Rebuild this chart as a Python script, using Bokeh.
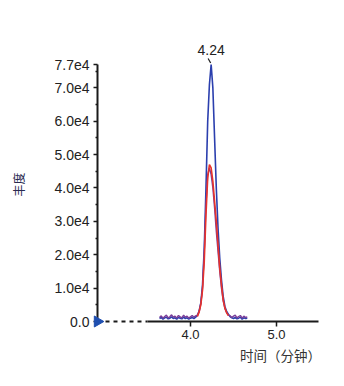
import math
from bokeh.plotting import figure
from bokeh.models import Range1d, FixedTicker, Label
from bokeh.core.properties import value
from bokeh.embed import file_html
from bokeh.resources import INLINE

# ---------------- data ----------------
time_min = [3.64, 3.66, 3.68, 3.70, 3.72, 3.74, 3.76, 3.78, 3.80, 3.82,
            3.84, 3.86, 3.88, 3.90, 3.92, 3.94, 3.96, 3.98, 4.00, 4.02,
            4.04, 4.06, 4.08, 4.10, 4.12, 4.14, 4.16, 4.18, 4.20, 4.22,
            4.24, 4.26, 4.28, 4.30, 4.32, 4.34, 4.36, 4.38, 4.40, 4.42,
            4.44, 4.46, 4.48, 4.50, 4.52, 4.54, 4.56, 4.58, 4.60, 4.62,
            4.64, 4.66]

blue_abund = [900, 1200, 700, 1100, 1300, 800, 1000, 1400, 900, 1100,
              700, 1200, 1000, 800, 1300, 900, 1100, 700, 1000, 1200,
              900, 1300, 1800, 3000, 5500, 11000, 22000, 40000, 60000, 71000,
              77000, 70000, 55000, 40000, 28000, 19000, 12500, 7500, 4500, 3000,
              2200, 1500, 1100, 900, 1200, 800, 1000, 1300, 700, 1100,
              900, 1000]

purple_abund = [1200, 1700, 1000, 1500, 1900, 1100, 1400, 2000, 1300, 1600,
                1000, 1800, 1400, 1100, 1900, 1300, 1600, 1000, 1400, 1800,
                1300, 1700, 1900, 3200, 5600, 10000, 21000, 35000, 44000, 46000,
                44000, 40000, 34000, 27000, 21000, 15000, 10000, 6200, 3900, 2700,
                1900, 1700, 1200, 1600, 1900, 1100, 1500, 1800, 1000, 1600,
                1200, 1400]

red_time = [4.08, 4.10, 4.12, 4.14, 4.16, 4.18, 4.20, 4.22, 4.24, 4.26,
            4.28, 4.30, 4.32, 4.34, 4.36, 4.38, 4.40, 4.42, 4.44]
red_abund = [1500, 2800, 5000, 9500, 18000, 32000, 43000, 47000, 46000, 42000,
             36000, 30000, 23000, 16000, 11000, 6500, 4000, 2600, 1800]

y_tick_values = [0, 10000, 20000, 30000, 40000, 50000, 60000, 70000, 77000]
y_tick_labels = ["0.0", "1.0e4", "2.0e4", "3.0e4", "4.0e4", "5.0e4", "6.0e4", "7.0e4", "7.7e4"]
y_minor_ticks = [5000, 15000, 25000, 35000, 45000, 55000, 65000, 75000]
x_tick_values = [4.0, 5.0]
x_tick_labels = ["4.0", "5.0"]

x_title = "时间（分钟）"
y_title = "丰度"

# ---------------- layout ----------------
X_START, X_END = 2.919, 5.488
X_AXIS_SOLID_START = 3.5
Y_END = 90183
Y_AXIS_TOP = 77000

W, H = 338, 380
p = figure(width=W, height=H, output_backend="svg", toolbar_location=None,
           x_range=Range1d(X_START, X_END), y_range=Range1d(0, Y_END),
           min_border_left=97, min_border_right=20, min_border_top=20, min_border_bottom=59)
p.outline_line_color = None
p.xgrid.visible = False
p.ygrid.visible = False
p.background_fill_color = "white"
p.border_fill_color = "white"

TICK_FONT = "Liberation Sans"
CJK_FONT = "Noto Sans CJK SC"
TEXT_COLOR = "#222222"

# y axis
ya = p.yaxis[0]
ya.ticker = FixedTicker(ticks=y_tick_values, minor_ticks=y_minor_ticks)
ya.major_label_overrides = {v: s for v, s in zip(y_tick_values, y_tick_labels)}
ya.bounds = (0, Y_AXIS_TOP)
ya.axis_line_width = 2
ya.axis_line_color = "#1a1a1a"
ya.major_tick_line_color = "#1a1a1a"
ya.minor_tick_line_color = "#1a1a1a"
ya.major_tick_line_width = 1.5
ya.minor_tick_line_width = 1.5
ya.major_tick_out = 4
ya.major_tick_in = 0
ya.minor_tick_out = 2
ya.minor_tick_in = 0
ya.major_label_standoff = 4
ya.major_label_text_font = TICK_FONT
ya.major_label_text_font_size = "14px"
ya.major_label_text_color = TEXT_COLOR

# x axis
xa = p.xaxis[0]
xa.ticker = FixedTicker(ticks=x_tick_values, minor_ticks=[])
xa.major_label_overrides = {v: s for v, s in zip(x_tick_values, x_tick_labels)}
xa.bounds = (X_AXIS_SOLID_START, X_END)
xa.axis_line_width = 2
xa.axis_line_color = "#1a1a1a"
xa.major_tick_line_color = "#1a1a1a"
xa.major_tick_line_width = 1.5
xa.major_tick_out = 5
xa.major_tick_in = 0
xa.major_label_standoff = 3
xa.major_label_text_font = TICK_FONT
xa.major_label_text_font_size = "13px"
xa.major_label_text_color = TEXT_COLOR

# traces
p.line(time_min, blue_abund, line_color="#2b3fae", line_width=1.6)
p.line(time_min, purple_abund, line_color="#7a3d98", line_width=1.4)
p.line(red_time, red_abund, line_color="#e8322a", line_width=1.6)

# dashed extension of x axis and start marker
dash = p.segment(x0=[X_START], y0=[0], x1=[X_AXIS_SOLID_START], y1=[0],
                 line_color="#1a1a1a", line_width=1.8, line_dash="4 4")
dash.level = "overlay"
tri = p.scatter(x=[X_START], y=[0], marker="triangle", size=11, angle=-math.pi / 2,
                fill_color="#1f4fb0", line_color="#1f4fb0")
tri.level = "overlay"

# peak annotation
i_peak = max(range(len(blue_abund)), key=lambda i: blue_abund[i])
peak_t = time_min[i_peak]
peak_v = blue_abund[i_peak]
dx_px = (X_END - X_START) / 221.0
dy_px = Y_END / 301.0
p.segment(x0=[peak_t - 3 * dx_px], y0=[peak_v + 6 * dy_px],
          x1=[peak_t - 0.5 * dx_px], y1=[peak_v + 1.5 * dy_px],
          line_color="#1a1a1a", line_width=1.2)
p.add_layout(Label(x=peak_t, y=peak_v, y_offset=15, text="%.2f" % peak_t,
                   text_align="center", text_baseline="middle",
                   text_font=TICK_FONT, text_font_size="14px", text_color=TEXT_COLOR))

# axis titles (text glyphs drawn at overlay level so they are not clipped)
xt = p.text(x=[5.0], y=[0], text=[x_title], x_offset=4, y_offset=33,
            text_align="center", text_baseline="middle",
            text_font=value(CJK_FONT), text_font_size="13.5px", text_color="#333333")
xt.level = "overlay"
yt = p.text(x=[X_START], y=[0], text=[y_title], x_offset=-79, y_offset=-137, angle=math.pi / 2,
            text_align="center", text_baseline="middle",
            text_font=value(CJK_FONT), text_font_size="12px", text_color="#2a2a50")
yt.level = "overlay"

open("out.html", "w").write(file_html(p, INLINE))
